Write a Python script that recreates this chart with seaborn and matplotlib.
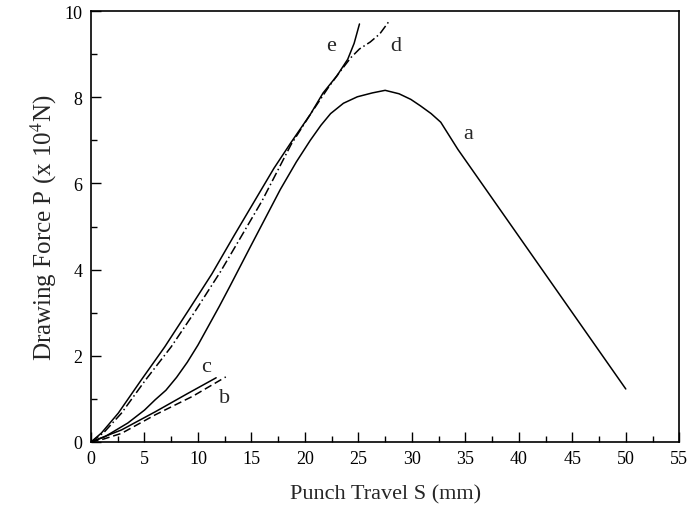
import matplotlib
matplotlib.use('Agg')
import matplotlib.pyplot as plt
import seaborn as sns
from matplotlib.ticker import MultipleLocator

sns.set_theme(style="ticks")
plt.rcParams['font.family'] = ['Liberation Serif', 'DejaVu Serif']
plt.rcParams['mathtext.fontset'] = 'stix'

# Curve data (S in mm, P in 10^4 N)
a_s = [0, 1.28, 3.44, 5.0, 6.0, 7.0, 8.0, 9.0, 10.0, 11.0, 12.0, 13.0, 14.9,
       17.7, 19.2, 20.5, 21.5, 22.4, 23.6, 24.9, 26.3, 27.5, 28.8, 29.9,
       30.8, 31.8, 32.7, 34.3, 50.0]
a_p = [0, 0.12, 0.44, 0.74, 0.98, 1.2, 1.5, 1.85, 2.25, 2.7, 3.15, 3.62, 4.53,
       5.86, 6.5, 7.0, 7.35, 7.62, 7.86, 8.01, 8.1, 8.16, 8.08, 7.95,
       7.8, 7.62, 7.42, 6.79, 1.23]

b_s = [0, 1.2, 2.85, 6.0, 9.5, 12.6]
b_p = [0, 0.07, 0.2, 0.63, 1.06, 1.51]

c_s = [0, 1.2, 2.85, 6.0, 9.0, 11.7]
c_p = [0, 0.12, 0.28, 0.7, 1.12, 1.49]

d_s = [0, 1.2, 2.85, 5.1, 7.5, 9.7, 12.1, 14.0, 16.0, 18.7, 20.5, 22.2,
       23.3, 24.3, 25.1, 25.6, 26.1, 27.0, 27.8]
d_p = [0, 0.22, 0.67, 1.44, 2.21, 3.02, 3.95, 4.75, 5.6, 6.9, 7.6, 8.23,
       8.6, 8.92, 9.12, 9.2, 9.28, 9.47, 9.74]

e_s = [0, 0.98, 2.55, 4.7, 6.9, 9.1, 11.3, 13.4, 15.5, 17.1, 18.7, 20.5,
       21.7, 23.0, 24.0, 24.6, 25.1]
e_p = [0, 0.21, 0.67, 1.44, 2.21, 3.05, 3.9, 4.8, 5.68, 6.35, 6.95, 7.6,
       8.1, 8.5, 8.88, 9.25, 9.7]

labels = ['a', 'b', 'c', 'd', 'e']
label_pos = [(35.3, 7.15), (12.45, 1.04), (10.8, 1.76), (28.5, 9.19), (22.4, 9.19)]

fig = plt.figure(figsize=(6.88, 5.10), dpi=100)
ax = fig.add_axes([0.1323, 0.1314, 0.855, 0.845])

curves = [(a_s, a_p, '-'), (b_s, b_p, (0, (5, 2.5))), (c_s, c_p, '-'),
          (d_s, d_p, (0, (6, 2, 1, 2))), (e_s, e_p, '-')]
for xs, ys, ls in curves:
    sns.lineplot(x=xs, y=ys, ax=ax, sort=False, estimator=None,
                 color='black', linewidth=1.1, linestyle=ls)

for lab, (lx, ly) in zip(labels, label_pos):
    ax.text(lx, ly, lab, fontsize=16, ha='center', va='center')

ax.set_xlim(0, 55)
ax.set_ylim(0, 10)
ax.xaxis.set_major_locator(MultipleLocator(5))
ax.xaxis.set_minor_locator(MultipleLocator(2.5))
ax.yaxis.set_major_locator(MultipleLocator(2))
ax.yaxis.set_minor_locator(MultipleLocator(1))
ax.tick_params(which='both', direction='in', colors='black', labelsize=13,
               top=False, right=False)
ax.tick_params(which='major', length=7, width=1, pad=6)
ax.tick_params(which='minor', length=4, width=1)
for sp in ax.spines.values():
    sp.set_color('black')
    sp.set_linewidth(1.2)

ax.set_xlabel('Punch Travel S (mm)', fontsize=16, labelpad=12)
ax.set_ylabel(r'Drawing Force P (x 10$^{4}$N)', fontsize=18, labelpad=4)

fig.savefig('out.png', dpi=100)
